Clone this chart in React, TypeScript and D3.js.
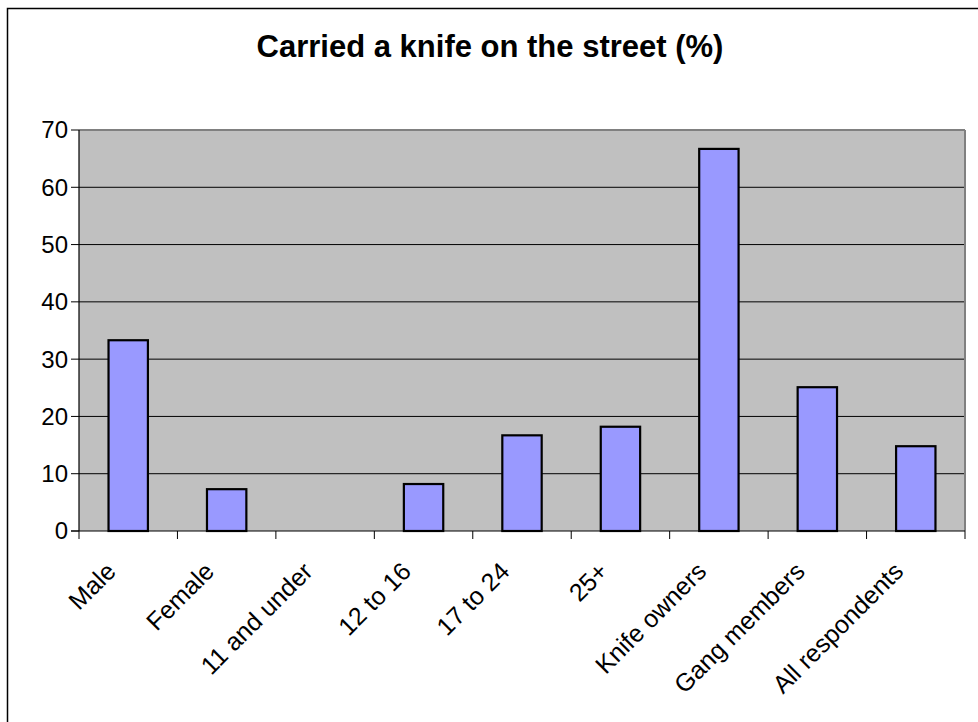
import React from "react";
import * as d3 from "d3";

const categories: string[] = [
  "Male",
  "Female",
  "11 and under",
  "12 to 16",
  "17 to 24",
  "25+",
  "Knife owners",
  "Gang members",
  "All respondents",
];
const values: number[] = [33.3, 7.3, 0, 8.2, 16.7, 18.2, 66.7, 25.1, 14.8];
const yTicks: number[] = [0, 10, 20, 30, 40, 50, 60, 70];
const title = "Carried a knife on the street (%)";

const W = 978;
const H = 722;
const plot = { left: 79, right: 965, top: 130, bottom: 531 };

export default function App() {
  const x = d3
    .scaleBand<string>()
    .domain(categories)
    .range([plot.left, plot.right])
    .paddingInner(0)
    .paddingOuter(0);
  const y = d3.scaleLinear().domain([0, 70]).range([plot.bottom, plot.top]);
  const bw = x.bandwidth() / 2.5;
  const font = "Arial, 'Liberation Sans', sans-serif";
  const boundaries = d3.range(categories.length + 1).map((i) => plot.left + i * x.step());

  return (
    <svg
      width={W}
      height={H}
      style={{ position: "absolute", left: 0, top: 0, background: "#fff" }}
      fontFamily={font}
    >
      <rect x={7.5} y={8.5} width={1000} height={1000} fill="#fff" stroke="#000" strokeWidth={1.5} />
      <text x={490} y={57} textAnchor="middle" fontSize={31} fontWeight="bold" fill="#000">
        {title}
      </text>
      <rect
        x={plot.left}
        y={plot.top}
        width={plot.right - plot.left}
        height={plot.bottom - plot.top}
        fill="#C0C0C0"
      />
      {yTicks
        .filter((t) => t > 0 && t < 70)
        .map((t) => (
          <line key={"g" + t} x1={plot.left} x2={plot.right} y1={y(t)} y2={y(t)} stroke="#000" strokeWidth={1} />
        ))}
      <line x1={plot.left} x2={plot.right} y1={plot.top} y2={plot.top} stroke="#808080" strokeWidth={2} />
      <line x1={plot.right} x2={plot.right} y1={plot.top} y2={plot.bottom} stroke="#808080" strokeWidth={2} />
      {categories.map((c, i) => (
        <rect
          key={c}
          x={(x(c) as number) + (x.bandwidth() - bw) / 2}
          y={y(values[i])}
          width={bw}
          height={plot.bottom - y(values[i])}
          fill="#9999FF"
          stroke="#000"
          strokeWidth={values[i] > 0 ? 2.2 : 0}
        />
      ))}
      <line x1={plot.left} x2={plot.left} y1={plot.top} y2={plot.bottom} stroke="#000" strokeWidth={1.2} />
      <line x1={plot.left - 8} x2={plot.right} y1={plot.bottom} y2={plot.bottom} stroke="#000" strokeWidth={1.2} />
      {yTicks.map((t) => (
        <g key={"t" + t}>
          <line x1={plot.left - 8} x2={plot.left} y1={y(t)} y2={y(t)} stroke="#000" strokeWidth={1} />
          <text x={plot.left - 11} y={y(t)} dy="0.35em" textAnchor="end" fontSize={24} fill="#000">
            {t}
          </text>
        </g>
      ))}
      {boundaries.map((bx, i) => (
        <line key={"b" + i} x1={bx} x2={bx} y1={plot.bottom} y2={plot.bottom + 8} stroke="#000" strokeWidth={1} />
      ))}
      {categories.map((c) => {
        const cx = (x(c) as number) + x.bandwidth() / 2;
        return (
          <text
            key={"l" + c}
            transform={`translate(${cx - 11},${573}) rotate(-45)`}
            textAnchor="end"
            fontSize={25}
            fill="#000"
          >
            {c}
          </text>
        );
      })}
    </svg>
  );
}
